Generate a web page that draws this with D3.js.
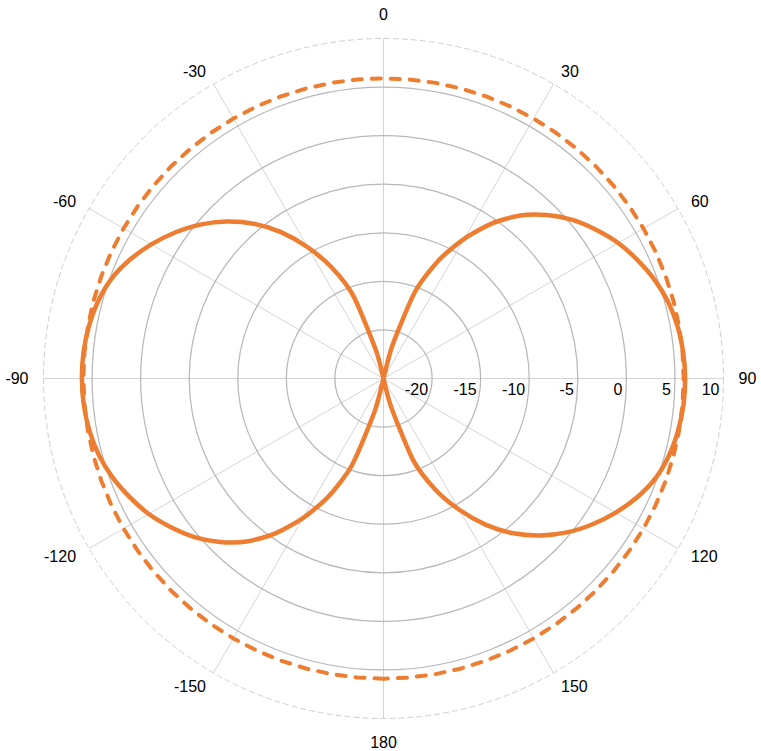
<!DOCTYPE html>
<html>
<head>
<meta charset="utf-8">
<script src="https://cdn.jsdelivr.net/npm/d3@7"></script>
<style>
  body { margin: 0; background: #fff; }
  text { font-family: "Liberation Sans", Arial, sans-serif; fill: #000; }
</style>
</head>
<body>
<div id="chart"></div>
<script>
// polar angles of the measured pattern (degrees, 0 = top, clockwise)
const angles = [-180, -175, -170, -165, -160, -155, -150, -145, -140, -135, -130, -125,
  -120, -115, -110, -105, -100, -95, -90, -85, -80, -75, -70, -65,
  -60, -55, -50, -45, -40, -35, -30, -25, -20, -15, -10, -5,
  0, 5, 10, 15, 20, 25, 30, 35, 40, 45, 50, 55,
  60, 65, 70, 75, 80, 85, 90, 95, 100, 105, 110, 115,
  120, 125, 130, 135, 140, 145, 150, 155, 160, 165, 170, 175]

// gain in dB at each angle
const gain = [-25, -25, -25, -21.5, -15.5, -11.6, -8.4, -5.5, -3.1, -1.2, 0.4, 1.7,
  2.9, 3.85, 4.7, 5.35, 5.75, 5.97, 6.05, 6.0, 5.8, 5.45, 4.85, 3.85,
  2.6, 1.2, -0.35, -2.15, -4.2, -6.6, -9.4, -12.4, -16.0, -22.0, -25, -25,
  -25, -25, -25, -21.5, -15.5, -11.6, -8.4, -5.5, -3.1, -1.2, 0.4, 1.7,
  2.9, 3.85, 4.7, 5.35, 5.75, 5.97, 6.05, 6.0, 5.8, 5.45, 4.85, 3.85,
  2.6, 1.2, -0.35, -2.15, -4.2, -6.6, -9.4, -12.4, -16.0, -22.0, -25, -25]

// reference (dashed) level in dB
const refGain = 5.9

const angleTicks = [0, 30, 60, 90, 120, 150, 180, -150, -120, -90, -60, -30]
const radialTicks = [-20, -15, -10, -5, 0, 5, 10]
const rMin = -25, rMax = 10

const width = 761, height = 751
const cx = 383.5, cy = 378.5
const outerR = 340

const svg = d3.select("#chart").append("svg")
    .attr("width", width)
    .attr("height", height)

const g = svg.append("g")
    .attr("transform", "translate(" + cx + "," + cy + ")")

const r = d3.scaleLinear()
    .domain([rMin, rMax])
    .range([0, outerR])

const rad = d => d * Math.PI / 180

// spokes
g.selectAll(".spoke")
    .data(angleTicks)
    .enter()
    .append("line")
    .attr("class", "spoke")
    .attr("x1", 0).attr("y1", 0)
    .attr("x2", d => r(rMax) * Math.sin(rad(d)))
    .attr("y2", d => -r(rMax) * Math.cos(rad(d)))
    .style("stroke", "#d4d4d4")
    .style("stroke-width", 1)

// circles
g.selectAll(".ring")
    .data(radialTicks)
    .enter()
    .append("circle")
    .attr("class", "ring")
    .attr("r", d => r(d))
    .style("fill", "none")
    .style("stroke", d => d === rMax ? "#cfcfcf" : "#b8b8b8")
    .style("stroke-width", d => d === rMax ? 1 : 1.25)
    .style("stroke-dasharray", d => d === rMax ? "6,3" : null)

// radial tick labels along the 90 degree spoke
g.selectAll(".rlabel")
    .data(radialTicks)
    .enter()
    .append("text")
    .attr("class", "rlabel")
    .attr("x", d => r(d) - 4)
    .attr("y", 16.5)
    .attr("text-anchor", "end")
    .style("font-size", "16px")
    .text(d => d)

// angle labels
const labelR = 355
g.selectAll(".alabel")
    .data(angleTicks)
    .enter()
    .append("text")
    .attr("class", "alabel")
    .attr("x", d => labelR * Math.sin(rad(d)))
    .attr("y", d => {
        const y = -labelR * Math.cos(rad(d))
        if (d === 0) return y - 3.3
        if (d === 180) return y + 14.5
        return y
    })
    .attr("dy", d => (d === 0 || d === 180) ? 0 : "0.35em")
    .attr("text-anchor", d => (d === 0 || d === 180) ? "middle" : (d > 0 ? "start" : "end"))
    .style("font-size", "16px")
    .text(d => d)

// series
const line = d3.lineRadial()
    .angle(d => rad(d.a))
    .radius(d => r(Math.max(rMin, d.v)))

const pattern = angles.map((a, i) => ({ a: a, v: gain[i] }))
const reference = angles.map(a => ({ a: a, v: refGain }))

g.append("path")
    .datum(pattern)
    .attr("d", line.curve(d3.curveCardinalClosed.tension(0.3)))
    .style("fill", "none")
    .style("stroke", "#ED7D31")
    .style("stroke-width", 4.5)
    .style("stroke-linejoin", "round")

g.append("path")
    .datum(reference)
    .attr("d", line.curve(d3.curveLinearClosed))
    .style("fill", "none")
    .style("stroke", "#ED7D31")
    .style("stroke-width", 4)
    .style("stroke-linecap", "round")
    .style("stroke-dasharray", "9,10")
</script>
</body>
</html>
